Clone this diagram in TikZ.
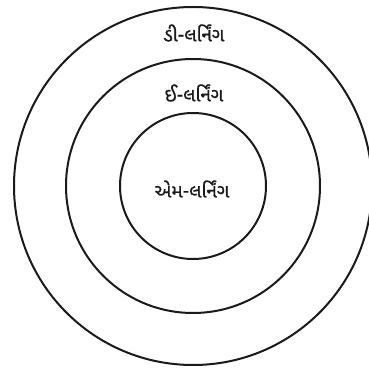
\documentclass[tikz,border=0pt]{standalone}
\usepackage{fontspec}
\newfontfamily\gujfont[Script=Gujarati,FakeBold=0.8]{Noto Sans Gujarati UI}
\usepackage{xcolor}
\usetikzlibrary{positioning}
\definecolor{ringline}{HTML}{1a1a1a}
\definecolor{labeltext}{HTML}{1a1a1a}

\begin{document}
\begin{tikzpicture}[
  x=1pt, y=1pt,
  ring/.style={
    circle, draw=ringline, line width=2pt,
    inner sep=0pt
  },
  lbl/.style={
    text=labeltext, font=\gujfont\fontsize{19}{22}\selectfont,
    inner sep=1pt
  }
]
\useasboundingbox (0,0) rectangle (369,367);
\coordinate (c) at (193,181);
\node[ring, minimum size=358pt] (dring) at (c) {};
\node[ring, minimum size=254pt] (ering) at (c) {};
\node[ring, minimum size=146pt] (mring) at (c) {};
\node[lbl] (dlab) at (194,334) {ડી-લર્નિંગ};
\node[lbl] (elab) at (194,274) {ઈ-લર્નિંગ};
\node[lbl] (mlab) at (192,178) {એમ-લર્નિંગ};
\end{tikzpicture}
\end{document}
